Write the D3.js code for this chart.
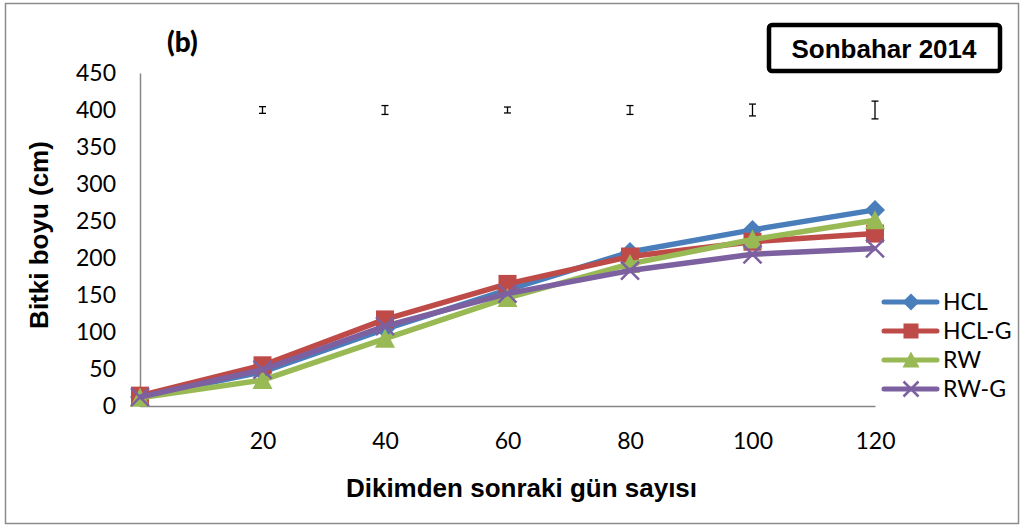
<!DOCTYPE html>
<html>
<head>
<meta charset="utf-8">
<script src="https://cdn.jsdelivr.net/npm/d3@7/dist/d3.min.js"></script>
<style>
  html, body { margin: 0; padding: 0; background: #fff; }
  svg { display: block; }
</style>
</head>
<body>
<svg id="chart" width="1021" height="527"></svg>
<script>
// Days after planting and mean plant height (cm) per treatment
const days = [0, 20, 40, 60, 80, 100, 120];
const hcl  = [12, 46, 104, 157, 208, 238, 265];
const hclG = [14, 55, 117, 165, 202, 222, 233];
const rw   = [11, 35, 91, 146, 192, 225, 251];
const rwG  = [12, 49, 108, 152, 183, 205, 213];

const seriesNames = ["HCL", "HCL-G", "RW", "RW-G"];
const seriesColors = ["#4A7EBB", "#BE4B48", "#98B954", "#7D60A0"];
const seriesMarkers = ["diamond", "square", "triangle", "cross"];

// Error bars drawn at a fixed reference height
const errDays = [20, 40, 60, 80, 100, 120];
const errLevel = 400;
const errHalf = [4.5, 6, 4, 6, 8, 12];

const xTicks = [20, 40, 60, 80, 100, 120];
const yTicks = [0, 50, 100, 150, 200, 250, 300, 350, 400, 450];

const svg = d3.select("#chart");

// outer frame
svg.append("rect")
  .attr("x", 5.5).attr("y", 3.5).attr("width", 1013).attr("height", 520)
  .attr("fill", "#fff").attr("stroke", "#8c8c8c").attr("stroke-width", 1.5);

const x = d3.scaleLinear().domain([0, 120]).range([140, 875]);
const y = d3.scaleLinear().domain([0, 450]).range([406, 73]);

const tickFont = "Lato, 'Open Sans', sans-serif";

// y axis
const gy = svg.append("g").attr("transform", `translate(${x(0)},0)`)
  .call(d3.axisLeft(y).tickValues(yTicks).tickSize(0).tickSizeOuter(0).tickPadding(24));
gy.select(".domain").attr("stroke", "#868686").attr("stroke-width", 1.5);
gy.selectAll("text").attr("font-family", tickFont).attr("font-size", 23).attr("fill", "#000");

// x axis
const gx = svg.append("g").attr("transform", `translate(0,${y(0)})`)
  .call(d3.axisBottom(x).tickValues(xTicks).tickSize(0).tickSizeOuter(0).tickPadding(27));
gx.select(".domain").attr("stroke", "#868686").attr("stroke-width", 1.5);
gx.selectAll("text").attr("font-family", tickFont).attr("font-size", 23).attr("fill", "#000");

// axis titles
svg.append("text")
  .attr("x", x(60) + 14).attr("y", 497)
  .attr("text-anchor", "middle")
  .attr("font-family", "'Liberation Sans', Arial, sans-serif")
  .attr("font-weight", "bold").attr("font-size", 26)
  .text("Dikimden sonraki gün sayısı");

svg.append("text")
  .attr("transform", "translate(48,235) rotate(-90)")
  .attr("text-anchor", "middle")
  .attr("font-family", "'Liberation Sans', Arial, sans-serif")
  .attr("font-weight", "bold").attr("font-size", 26)
  .text("Bitki boyu (cm)");

// panel label
svg.append("text")
  .attr("x", 167).attr("y", 52)
  .attr("font-family", "Lato, 'Open Sans', sans-serif")
  .style("font-weight", "900").attr("font-size", 28)
  .text("(b)");

// season box
svg.append("rect")
  .attr("x", 769).attr("y", 25).attr("width", 231).attr("height", 46)
  .attr("rx", 3).attr("fill", "#fff").attr("stroke", "#000").attr("stroke-width", 4.5);
svg.append("text")
  .attr("x", 884).attr("y", 58)
  .attr("text-anchor", "middle")
  .attr("font-family", "'Liberation Sans', Arial, sans-serif")
  .attr("font-weight", "bold").attr("font-size", 26)
  .text("Sonbahar 2014");

// error bars
const eb = svg.append("g").attr("stroke", "#000").attr("stroke-width", 1.3);
errDays.forEach((d, i) => {
  const cx = x(d), y1 = y(errLevel + errHalf[i]), y2 = y(errLevel - errHalf[i]);
  eb.append("line").attr("x1", cx).attr("x2", cx).attr("y1", y1).attr("y2", y2);
  eb.append("line").attr("x1", cx - 3.5).attr("x2", cx + 3.5).attr("y1", y1).attr("y2", y1);
  eb.append("line").attr("x1", cx - 3.5).attr("x2", cx + 3.5).attr("y1", y2).attr("y2", y2);
});

// marker drawing helper
function drawMarker(g, type, cx, cy, color, s) {
  const h = s / 2;
  if (type === "diamond") {
    g.append("path")
      .attr("d", `M${cx},${cy - h - 1}L${cx + h + 1},${cy}L${cx},${cy + h + 1}L${cx - h - 1},${cy}Z`)
      .attr("fill", color);
  } else if (type === "square") {
    g.append("rect").attr("x", cx - h).attr("y", cy - h)
      .attr("width", s).attr("height", s).attr("fill", color);
  } else if (type === "triangle") {
    g.append("path")
      .attr("d", `M${cx},${cy - h - 1}L${cx + h + 1},${cy + h}L${cx - h - 1},${cy + h}Z`)
      .attr("fill", color);
  } else {
    g.append("path")
      .attr("d", `M${cx - h},${cy - h}L${cx + h},${cy + h}M${cx - h},${cy + h}L${cx + h},${cy - h}`)
      .attr("stroke", color).attr("stroke-width", 2.5).attr("fill", "none");
  }
}

const allSeries = [hcl, hclG, rw, rwG];
const line = d3.line().x((d, i) => x(days[i])).y(d => y(d));

allSeries.forEach((vals, k) => {
  const g = svg.append("g");
  g.append("path").datum(vals)
    .attr("d", line)
    .attr("fill", "none")
    .attr("stroke", seriesColors[k])
    .attr("stroke-width", 5.5)
    .attr("stroke-linejoin", "round");
  vals.forEach((v, i) => drawMarker(g, seriesMarkers[k], x(days[i]), y(v), seriesColors[k], 18));
});

// legend
const legY = [302, 331, 360, 389];
seriesNames.forEach((name, k) => {
  const g = svg.append("g");
  g.append("line").attr("x1", 884).attr("x2", 937)
    .attr("y1", legY[k]).attr("y2", legY[k])
    .attr("stroke", seriesColors[k]).attr("stroke-width", 5).attr("stroke-linecap", "round");
  drawMarker(g, seriesMarkers[k], 911, legY[k], seriesColors[k], 15);
  g.append("text").attr("x", 943).attr("y", legY[k]).attr("dy", "0.36em")
    .attr("font-family", tickFont).attr("font-size", 23).text(name);
});
</script>
</body>
</html>
